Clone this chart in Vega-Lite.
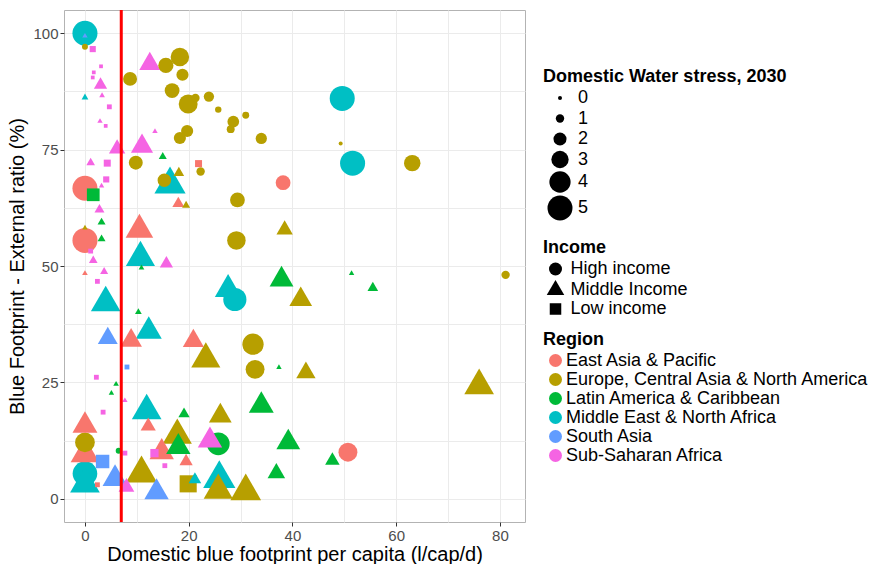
{
  "$schema": "https://vega.github.io/schema/vega-lite/v6.json",
  "width": 461,
  "height": 512,
  "autosize": {"type": "none"},
  "padding": {"left": 64, "top": 10, "right": 352, "bottom": 42},
  "background": "white",
  "config": {
    "font": "Liberation Sans",
    "view": {"stroke": "#B3B3B3", "strokeWidth": 1},
    "axis": {
      "gridColor": "#EBEBEB", "gridWidth": 1, "domain": false,
      "tickColor": "#333333", "tickSize": 4, "tickWidth": 1,
      "labelColor": "#4D4D4D", "labelFontSize": 15, "labelPadding": 2,
      "labelOverlap": false, "labelFlush": false,
      "titleFontSize": 20, "titleFontWeight": "normal", "titleColor": "black",
      "labelFont": "Liberation Sans", "titleFont": "Liberation Sans"
    },
    "legend": {
      "titleFontSize": 18, "titleFontWeight": "bold", "titleColor": "black",
      "labelFontSize": 18, "labelColor": "black", "titlePadding": 3,
      "rowPadding": 1, "padding": 0, "labelLimit": 400, "titleLimit": 400,
      "labelFont": "Liberation Sans", "titleFont": "Liberation Sans"
    }
  },
  "layer": [
    {
      "data": {"values": [
        {"fp": 0, "ext": 100, "stress": 5, "income": "High income", "region": "Middle East & North Africa"},
        {"fp": 0, "ext": 97.1, "stress": 0.5, "income": "High income", "region": "Europe, Central Asia & North America"},
        {"fp": 8.7, "ext": 90.2, "stress": 2.2, "income": "High income", "region": "Europe, Central Asia & North America"},
        {"fp": 15.6, "ext": 93.1, "stress": 2.5, "income": "High income", "region": "Europe, Central Asia & North America"},
        {"fp": 18.3, "ext": 94.9, "stress": 3.3, "income": "High income", "region": "Europe, Central Asia & North America"},
        {"fp": 18.8, "ext": 91.1, "stress": 1.8, "income": "High income", "region": "Europe, Central Asia & North America"},
        {"fp": 16.8, "ext": 87.7, "stress": 2.4, "income": "High income", "region": "Europe, Central Asia & North America"},
        {"fp": 19.9, "ext": 84.8, "stress": 3.4, "income": "High income", "region": "Europe, Central Asia & North America"},
        {"fp": 21.3, "ext": 86.1, "stress": 1.0, "income": "High income", "region": "Europe, Central Asia & North America"},
        {"fp": 23.9, "ext": 86.4, "stress": 1.4, "income": "High income", "region": "Europe, Central Asia & North America"},
        {"fp": 25.7, "ext": 83.6, "stress": 0.6, "income": "High income", "region": "Europe, Central Asia & North America"},
        {"fp": 28.6, "ext": 81.0, "stress": 1.7, "income": "High income", "region": "Europe, Central Asia & North America"},
        {"fp": 31.0, "ext": 82.4, "stress": 0.7, "income": "High income", "region": "Europe, Central Asia & North America"},
        {"fp": 28.1, "ext": 79.4, "stress": 0.9, "income": "High income", "region": "Europe, Central Asia & North America"},
        {"fp": 19.7, "ext": 79.0, "stress": 1.8, "income": "High income", "region": "Europe, Central Asia & North America"},
        {"fp": 18.3, "ext": 77.5, "stress": 1.8, "income": "High income", "region": "Europe, Central Asia & North America"},
        {"fp": 34.0, "ext": 77.4, "stress": 1.6, "income": "High income", "region": "Europe, Central Asia & North America"},
        {"fp": 9.8, "ext": 72.2, "stress": 2.2, "income": "High income", "region": "Europe, Central Asia & North America"},
        {"fp": 22.3, "ext": 70.3, "stress": 1.0, "income": "High income", "region": "Europe, Central Asia & North America"},
        {"fp": 15.3, "ext": 68.4, "stress": 2.1, "income": "High income", "region": "Europe, Central Asia & North America"},
        {"fp": 49.6, "ext": 86.0, "stress": 5, "income": "High income", "region": "Middle East & North Africa"},
        {"fp": 49.3, "ext": 76.3, "stress": 0, "income": "High income", "region": "Europe, Central Asia & North America"},
        {"fp": 51.6, "ext": 72.1, "stress": 5, "income": "High income", "region": "Middle East & North Africa"},
        {"fp": 63.1, "ext": 72.1, "stress": 2.8, "income": "High income", "region": "Europe, Central Asia & North America"},
        {"fp": 38.2, "ext": 67.9, "stress": 2.4, "income": "High income", "region": "East Asia & Pacific"},
        {"fp": 0, "ext": 66.7, "stress": 5, "income": "High income", "region": "East Asia & Pacific"},
        {"fp": 0, "ext": 55.5, "stress": 5, "income": "High income", "region": "East Asia & Pacific"},
        {"fp": 29.4, "ext": 64.2, "stress": 2.4, "income": "High income", "region": "Europe, Central Asia & North America"},
        {"fp": 29.2, "ext": 55.5, "stress": 3.3, "income": "High income", "region": "Europe, Central Asia & North America"},
        {"fp": 28.9, "ext": 42.8, "stress": 4.5, "income": "High income", "region": "Middle East & North Africa"},
        {"fp": 32.4, "ext": 33.2, "stress": 4.0, "income": "High income", "region": "Europe, Central Asia & North America"},
        {"fp": 32.8, "ext": 27.8, "stress": 3.4, "income": "High income", "region": "Europe, Central Asia & North America"},
        {"fp": 0, "ext": 12.1, "stress": 3.6, "income": "High income", "region": "Europe, Central Asia & North America"},
        {"fp": 0, "ext": 5.4, "stress": 4.9, "income": "High income", "region": "Middle East & North Africa"},
        {"fp": 6.5, "ext": 10.3, "stress": 0.5, "income": "High income", "region": "Latin America & Caribbean"},
        {"fp": 25.7, "ext": 11.8, "stress": 4.4, "income": "High income", "region": "Latin America & Caribbean"},
        {"fp": 50.7, "ext": 10.0, "stress": 3.4, "income": "High income", "region": "East Asia & Pacific"},
        {"fp": 81.1, "ext": 48.1, "stress": 1.0, "income": "High income", "region": "Europe, Central Asia & North America"},

        {"fp": 0, "ext": 99.4, "stress": 0, "income": "Middle Income", "region": "South Asia"},
        {"fp": 3.0, "ext": 88.9, "stress": 1.3, "income": "Middle Income", "region": "Sub-Saharan Africa"},
        {"fp": 3.3, "ext": 86.6, "stress": 0.1, "income": "Middle Income", "region": "Sub-Saharan Africa"},
        {"fp": 0, "ext": 86.2, "stress": 0.3, "income": "Middle Income", "region": "Middle East & North Africa"},
        {"fp": 2.9, "ext": 81.1, "stress": 0, "income": "Middle Income", "region": "Sub-Saharan Africa"},
        {"fp": 13.5, "ext": 78.9, "stress": 0, "income": "Middle Income", "region": "Sub-Saharan Africa"},
        {"fp": 6.2, "ext": 75.2, "stress": 1.8, "income": "Middle Income", "region": "Sub-Saharan Africa"},
        {"fp": 11.0, "ext": 75.7, "stress": 2.8, "income": "Middle Income", "region": "Sub-Saharan Africa"},
        {"fp": 15.0, "ext": 73.5, "stress": 0.5, "income": "Middle Income", "region": "Latin America & Caribbean"},
        {"fp": 1.1, "ext": 72.2, "stress": 0.6, "income": "Middle Income", "region": "Sub-Saharan Africa"},
        {"fp": 18.1, "ext": 70.0, "stress": 0.9, "income": "Middle Income", "region": "Europe, Central Asia & North America"},
        {"fp": 12.5, "ext": 93.4, "stress": 2.6, "income": "Middle Income", "region": "Sub-Saharan Africa"},
        {"fp": 3.2, "ext": 67.2, "stress": 0, "income": "Middle Income", "region": "Sub-Saharan Africa"},
        {"fp": 2.8, "ext": 62.1, "stress": 0.8, "income": "Middle Income", "region": "Sub-Saharan Africa"},
        {"fp": 3.2, "ext": 59.4, "stress": 0.5, "income": "Middle Income", "region": "Latin America & Caribbean"},
        {"fp": 3.2, "ext": 55.8, "stress": 0.5, "income": "Middle Income", "region": "Latin America & Caribbean"},
        {"fp": 0, "ext": 58.2, "stress": 0, "income": "Middle Income", "region": "Europe, Central Asia & North America"},
        {"fp": 1.6, "ext": 51.2, "stress": 0.6, "income": "Middle Income", "region": "Sub-Saharan Africa"},
        {"fp": 0, "ext": 48.4, "stress": 0.1, "income": "Middle Income", "region": "East Asia & Pacific"},
        {"fp": 3.7, "ext": 48.8, "stress": 0.5, "income": "Middle Income", "region": "Sub-Saharan Africa"},
        {"fp": 4.0, "ext": 42.1, "stress": 4.2, "income": "Middle Income", "region": "Middle East & North Africa"},
        {"fp": 10.3, "ext": 40.1, "stress": 0.3, "income": "Middle Income", "region": "Latin America & Caribbean"},
        {"fp": 4.4, "ext": 34.5, "stress": 2.4, "income": "Middle Income", "region": "South Asia"},
        {"fp": 10.5, "ext": 57.8, "stress": 3.8, "income": "Middle Income", "region": "East Asia & Pacific"},
        {"fp": 10.7, "ext": 51.8, "stress": 4.1, "income": "Middle Income", "region": "Middle East & North Africa"},
        {"fp": 10.9, "ext": 49.6, "stress": 0.1, "income": "Middle Income", "region": "Latin America & Caribbean"},
        {"fp": 15.7, "ext": 50.5, "stress": 1.3, "income": "Middle Income", "region": "Sub-Saharan Africa"},
        {"fp": 16.4, "ext": 67.5, "stress": 4.5, "income": "Middle Income", "region": "Middle East & North Africa"},
        {"fp": 18.0, "ext": 63.4, "stress": 1.1, "income": "Middle Income", "region": "East Asia & Pacific"},
        {"fp": 19.5, "ext": 63.0, "stress": 0.5, "income": "Middle Income", "region": "Europe, Central Asia & North America"},
        {"fp": 38.5, "ext": 57.8, "stress": 1.8, "income": "Middle Income", "region": "Europe, Central Asia & North America"},
        {"fp": 27.6, "ext": 45.0, "stress": 3.6, "income": "Middle Income", "region": "Middle East & North Africa"},
        {"fp": 37.9, "ext": 47.1, "stress": 3.1, "income": "Middle Income", "region": "Latin America & Caribbean"},
        {"fp": 41.6, "ext": 42.8, "stress": 2.9, "income": "Middle Income", "region": "Europe, Central Asia & North America"},
        {"fp": 12.3, "ext": 36.0, "stress": 3.5, "income": "Middle Income", "region": "Middle East & North Africa"},
        {"fp": 8.9, "ext": 34.0, "stress": 2.7, "income": "Middle Income", "region": "East Asia & Pacific"},
        {"fp": 20.9, "ext": 33.9, "stress": 2.6, "income": "Middle Income", "region": "East Asia & Pacific"},
        {"fp": 23.3, "ext": 30.0, "stress": 4.1, "income": "Middle Income", "region": "Europe, Central Asia & North America"},
        {"fp": 37.4, "ext": 28.2, "stress": 0, "income": "Middle Income", "region": "Latin America & Caribbean"},
        {"fp": 42.6, "ext": 27.1, "stress": 2.3, "income": "Middle Income", "region": "Europe, Central Asia & North America"},
        {"fp": 51.4, "ext": 48.4, "stress": 0, "income": "Middle Income", "region": "Latin America & Caribbean"},
        {"fp": 55.5, "ext": 45.3, "stress": 0.9, "income": "Middle Income", "region": "Latin America & Caribbean"},
        {"fp": 6.0, "ext": 24.6, "stress": 0.1, "income": "Middle Income", "region": "Latin America & Caribbean"},
        {"fp": 5.1, "ext": 22.7, "stress": 0, "income": "Middle Income", "region": "Latin America & Caribbean"},
        {"fp": 7.7, "ext": 21.1, "stress": 0, "income": "Middle Income", "region": "Sub-Saharan Africa"},
        {"fp": 11.9, "ext": 18.9, "stress": 4.2, "income": "Middle Income", "region": "Middle East & North Africa"},
        {"fp": 12.2, "ext": 15.6, "stress": 1.6, "income": "Middle Income", "region": "East Asia & Pacific"},
        {"fp": 19.1, "ext": 18.2, "stress": 1.0, "income": "Middle Income", "region": "Latin America & Caribbean"},
        {"fp": 26.1, "ext": 17.8, "stress": 2.9, "income": "Middle Income", "region": "Europe, Central Asia & North America"},
        {"fp": 34.0, "ext": 20.0, "stress": 3.3, "income": "Middle Income", "region": "Latin America & Caribbean"},
        {"fp": 0, "ext": 15.7, "stress": 3.3, "income": "Middle Income", "region": "East Asia & Pacific"},
        {"fp": 0, "ext": 9.6, "stress": 4.0, "income": "Middle Income", "region": "East Asia & Pacific"},
        {"fp": 0, "ext": 3.2, "stress": 4.2, "income": "Middle Income", "region": "Middle East & North Africa"},
        {"fp": 5.8, "ext": 4.3, "stress": 3.3, "income": "Middle Income", "region": "South Asia"},
        {"fp": 8.0, "ext": 2.5, "stress": 1.7, "income": "Middle Income", "region": "Sub-Saharan Africa"},
        {"fp": 10.9, "ext": 5.4, "stress": 4.5, "income": "Middle Income", "region": "Europe, Central Asia & North America"},
        {"fp": 13.8, "ext": 1.4, "stress": 3.2, "income": "Middle Income", "region": "South Asia"},
        {"fp": 14.8, "ext": 10.0, "stress": 3.2, "income": "Middle Income", "region": "East Asia & Pacific"},
        {"fp": 17.8, "ext": 13.6, "stress": 4.1, "income": "Middle Income", "region": "Europe, Central Asia & North America"},
        {"fp": 18.0, "ext": 11.1, "stress": 3.2, "income": "Middle Income", "region": "Latin America & Caribbean"},
        {"fp": 19.5, "ext": 8.0, "stress": 1.3, "income": "Middle Income", "region": "East Asia & Pacific"},
        {"fp": 24.1, "ext": 12.5, "stress": 3.2, "income": "Middle Income", "region": "Sub-Saharan Africa"},
        {"fp": 21.2, "ext": 4.1, "stress": 1.2, "income": "Middle Income", "region": "Middle East & North Africa"},
        {"fp": 25.9, "ext": 4.3, "stress": 4.7, "income": "Middle Income", "region": "Middle East & North Africa"},
        {"fp": 25.7, "ext": 1.8, "stress": 4.1, "income": "Middle Income", "region": "Europe, Central Asia & North America"},
        {"fp": 31.0, "ext": 1.6, "stress": 4.4, "income": "Middle Income", "region": "Europe, Central Asia & North America"},
        {"fp": 36.9, "ext": 5.5, "stress": 2.0, "income": "Middle Income", "region": "Latin America & Caribbean"},
        {"fp": 39.2, "ext": 12.1, "stress": 3.1, "income": "Middle Income", "region": "Latin America & Caribbean"},
        {"fp": 76.0, "ext": 24.3, "stress": 4.2, "income": "Middle Income", "region": "Europe, Central Asia & North America"},
        {"fp": 47.7, "ext": 8.2, "stress": 1.5, "income": "Middle Income", "region": "Latin America & Caribbean"},

        {"fp": 1.5, "ext": 96.6, "stress": 0.7, "income": "Low income", "region": "Sub-Saharan Africa"},
        {"fp": 3.1, "ext": 92.9, "stress": 0.1, "income": "Low income", "region": "Sub-Saharan Africa"},
        {"fp": 1.7, "ext": 91.6, "stress": 0.1, "income": "Low income", "region": "Sub-Saharan Africa"},
        {"fp": 1.5, "ext": 90.5, "stress": 0.1, "income": "Low income", "region": "Sub-Saharan Africa"},
        {"fp": 4.7, "ext": 84.2, "stress": 0.4, "income": "Low income", "region": "Sub-Saharan Africa"},
        {"fp": 4.0, "ext": 80.1, "stress": 0.1, "income": "Low income", "region": "Sub-Saharan Africa"},
        {"fp": 4.3, "ext": 72.1, "stress": 0.9, "income": "Low income", "region": "Sub-Saharan Africa"},
        {"fp": 21.9, "ext": 72.0, "stress": 0.9, "income": "Low income", "region": "East Asia & Pacific"},
        {"fp": 4.1, "ext": 68.6, "stress": 0.7, "income": "Low income", "region": "Sub-Saharan Africa"},
        {"fp": 1.6, "ext": 65.3, "stress": 2.3, "income": "Low income", "region": "Latin America & Caribbean"},
        {"fp": 1.1, "ext": 53.2, "stress": 0.4, "income": "Low income", "region": "Sub-Saharan Africa"},
        {"fp": 2.4, "ext": 46.7, "stress": 0.4, "income": "Low income", "region": "Sub-Saharan Africa"},
        {"fp": 8.1, "ext": 28.3, "stress": 0.4, "income": "Low income", "region": "South Asia"},
        {"fp": 2.2, "ext": 26.1, "stress": 0.4, "income": "Low income", "region": "Sub-Saharan Africa"},
        {"fp": 3.5, "ext": 18.6, "stress": 0.4, "income": "Low income", "region": "Sub-Saharan Africa"},
        {"fp": 3.4, "ext": 8.0, "stress": 2.5, "income": "Low income", "region": "South Asia"},
        {"fp": 2.4, "ext": 3.0, "stress": 0.4, "income": "Low income", "region": "East Asia & Pacific"},
        {"fp": 7.7, "ext": 9.8, "stress": 0.4, "income": "Low income", "region": "Sub-Saharan Africa"},
        {"fp": 13.4, "ext": 9.8, "stress": 1.2, "income": "Low income", "region": "Sub-Saharan Africa"},
        {"fp": 15.4, "ext": 7.1, "stress": 0.4, "income": "Low income", "region": "Sub-Saharan Africa"},
        {"fp": 19.9, "ext": 3.2, "stress": 3.5, "income": "Low income", "region": "Europe, Central Asia & North America"}
      ]},
      "mark": {"type": "point", "filled": true, "opacity": 1, "strokeWidth": 0},
      "encoding": {
        "x": {
          "field": "fp", "type": "quantitative",
          "scale": {"domain": [-4.04, 84.84], "nice": false, "zero": false},
          "axis": {
            "title": "Domestic blue footprint per capita (l/cap/d)",
            "values": [0, 10, 20, 30, 40, 50, 60, 70, 80],
            "labelExpr": "datum.value % 20 === 0 ? datum.label : ''",
            "tickOpacity": {"condition": {"test": "datum.value % 20 === 0", "value": 1}, "value": 0},
            "titlePadding": 1
          }
        },
        "y": {
          "field": "ext", "type": "quantitative",
          "scale": {"domain": [-5, 105], "nice": false, "zero": false},
          "axis": {
            "title": "Blue Footprint - External ratio (%)",
            "values": [0, 12.5, 25, 37.5, 50, 62.5, 75, 87.5, 100],
            "labelExpr": "datum.value % 25 === 0 ? datum.label : ''",
            "tickOpacity": {"condition": {"test": "datum.value % 25 === 0", "value": 1}, "value": 0},
            "titlePadding": 5
          }
        },
        "size": {
          "field": "stress", "type": "quantitative",
          "scale": {"type": "pow", "exponent": 1.5, "domain": [0, 5], "range": [16, 625]},
          "legend": {
            "title": "Domestic Water stress, 2030", "orient": "none", "legendX": 479, "legendY": 58,
            "values": [0, 1, 2, 3, 4, 5], "symbolType": "circle",
            "symbolFillColor": "black", "symbolStrokeColor": "black", "symbolStrokeWidth": 0,
            "symbolOffset": 4.5, "labelOffset": 5.5, "rowPadding": 2.5
          }
        },
        "shape": {
          "field": "income", "type": "nominal",
          "scale": {
            "domain": ["High income", "Middle Income", "Low income"],
            "range": ["circle", "M0,-1.555L1.347,0.778L-1.347,0.778Z", "M-0.886,-0.886L0.886,-0.886L0.886,0.886L-0.886,0.886Z"]
          },
          "legend": {
            "title": "Income", "orient": "none", "legendX": 479, "legendY": 229,
            "symbolFillColor": "black", "symbolStrokeWidth": 0, "symbolSize": 169,
            "symbolOffset": 3.5, "labelOffset": 6
          }
        },
        "color": {
          "field": "region", "type": "nominal",
          "scale": {
            "domain": ["East Asia & Pacific", "Europe, Central Asia & North America", "Latin America & Caribbean", "Middle East & North Africa", "South Asia", "Sub-Saharan Africa"],
            "range": ["#F8766D", "#B79F00", "#00BA38", "#00BFC4", "#619CFF", "#F564E3"]
          },
          "legend": {
            "title": "Region", "orient": "none", "legendX": 479, "legendY": 320.5,
            "symbolType": "circle", "symbolSize": 169, "symbolStrokeWidth": 0,
            "symbolOffset": 3.5, "labelOffset": 1.5
          }
        },
        "order": {"field": "stress", "sort": "descending"}
      }
    },
    {
      "data": {"values": [{"threshold": 7}]},
      "mark": {"type": "rule", "color": "#FF0000", "strokeWidth": 3},
      "encoding": {"x": {"field": "threshold", "type": "quantitative"}}
    }
  ]
}
